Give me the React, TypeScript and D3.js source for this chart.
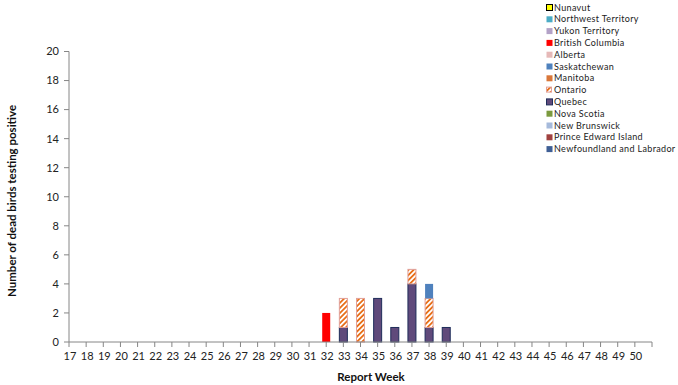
import React from 'react';
import * as d3 from 'd3';

// Provinces in stacking order (bottom -> top); legend lists them reversed
const provinces = [
  'Newfoundland and Labrador',
  'Prince Edward Island',
  'New Brunswick',
  'Nova Scotia',
  'Quebec',
  'Ontario',
  'Manitoba',
  'Saskatchewan',
  'Alberta',
  'British Columbia',
  'Yukon Territory',
  'Northwest Territory',
  'Nunavut',
];

const weeks = d3.range(17, 51);

// positive dead birds by report week, only non-zero provinces listed
const bcValues: [number, number][] = [[32, 2]];
const quebecValues: [number, number][] = [[33, 1], [35, 3], [36, 1], [37, 4], [38, 1], [39, 1]];
const ontarioValues: [number, number][] = [[33, 2], [34, 3], [37, 1], [38, 2]];
const saskValues: [number, number][] = [[38, 1]];

const yTicks = d3.range(0, 21, 2);

const fills: Record<string, string> = {
  'Newfoundland and Labrador': '#3F5F95',
  'Prince Edward Island': '#A0413F',
  'New Brunswick': '#A6BADB',
  'Nova Scotia': '#7B9A3E',
  Quebec: '#604A7B',
  Ontario: 'url(#hatch)',
  Manitoba: '#D9773A',
  Saskatchewan: '#4F81BD',
  Alberta: '#E6B9B8',
  'British Columbia': '#FF0000',
  'Yukon Territory': '#B3A2C7',
  'Northwest Territory': '#4BACC6',
  Nunavut: '#FFFF00',
};

const strokes: Record<string, string> = {
  Quebec: '#1F2D5A',
  Ontario: '#E0A09A',
  Nunavut: '#000000',
};

const seriesData: Record<string, [number, number][]> = {
  'British Columbia': bcValues,
  Quebec: quebecValues,
  Ontario: ontarioValues,
  Saskatchewan: saskValues,
};

export default function App() {
  const width = 678;
  const height = 385;

  const x = d3.scaleLinear().domain([17, 51]).range([69, 652]);
  const y = d3.scaleLinear().domain([0, 20]).range([342, 51.5]);
  const barW = 8;

  const rows = weeks.map((w) => {
    const row: Record<string, number> = { week: w };
    provinces.forEach((p) => {
      const found = (seriesData[p] || []).find((d) => d[0] === w);
      row[p] = found ? found[1] : 0;
    });
    return row;
  });
  const stacked = d3.stack<Record<string, number>>().keys(provinces)(rows);

  const font = 'Lato, "Open Sans", sans-serif';
  const legendItems = [...provinces].reverse();

  return (
    <svg width={width} height={height} style={{ position: 'absolute', left: 0, top: 0, background: '#fff' }}>
      <defs>
        <pattern id="hatch" patternUnits="userSpaceOnUse" width="3.6" height="3.6" patternTransform="rotate(45)">
          <rect width="3.6" height="3.6" fill="#fff" />
          <rect width="1.8" height="3.6" fill="#E8701A" />
        </pattern>
      </defs>

      {/* bars */}
      {stacked.map((s) =>
        s.map((d, i) =>
          d[1] - d[0] > 0 ? (
            <rect
              key={s.key + i}
              x={x(weeks[i]) - barW / 2}
              y={y(d[1])}
              width={barW}
              height={y(d[0]) - y(d[1])}
              fill={fills[s.key]}
              stroke={strokes[s.key] || 'none'}
              strokeWidth={1}
            />
          ) : null
        )
      )}

      {/* y axis */}
      <line x1={69} x2={69} y1={y(20)} y2={y(0)} stroke="#868686" />
      {yTicks.map((t) => (
        <g key={t}>
          <line x1={64} x2={69} y1={y(t)} y2={y(t)} stroke="#868686" />
          <text x={59} y={y(t)} dy="0.35em" textAnchor="end" fontSize={11} fontFamily={font} fill="#222">
            {t}
          </text>
        </g>
      ))}

      {/* x axis */}
      <line x1={69} x2={652} y1={y(0)} y2={y(0)} stroke="#868686" />
      {d3.range(17, 52).map((w) => (
        <line key={w} x1={x(w)} x2={x(w)} y1={y(0)} y2={y(0) + 5} stroke="#868686" />
      ))}
      {weeks.map((w) => (
        <text key={w} x={x(w) + 1} y={356} dy="0.35em" textAnchor="middle" fontSize={11} fontFamily={font} fill="#222">
          {w}
        </text>
      ))}

      <text x={371} y={377} dy="0.35em" textAnchor="middle" fontSize={11.5} fontWeight="bold" fontFamily={font} fill="#111">
        Report Week
      </text>
      <text
        transform={`translate(12,201) rotate(-90)`}
        dy="0.35em"
        textAnchor="middle"
        fontSize={11.5}
        fontWeight="bold"
        fontFamily={font}
        fill="#111"
      >
        Number of dead birds testing positive
      </text>

      {/* legend */}
      {legendItems.map((p, i) => {
        const cy = 7.5 + i * 11.8;
        const isOnt = p === 'Ontario';
        return (
          <g key={p}>
            <rect
              x={546.5}
              y={cy - 3}
              width={isOnt ? 5 : 6}
              height={isOnt ? 5 : 6}
              fill={fills[p]}
              stroke={strokes[p] || 'none'}
              strokeWidth={1}
            />
            <text x={554} y={cy} dy="0.35em" fontSize={9} fontFamily={font} fill="#222" letterSpacing={0.35}>
              {p}
            </text>
          </g>
        );
      })}
    </svg>
  );
}
